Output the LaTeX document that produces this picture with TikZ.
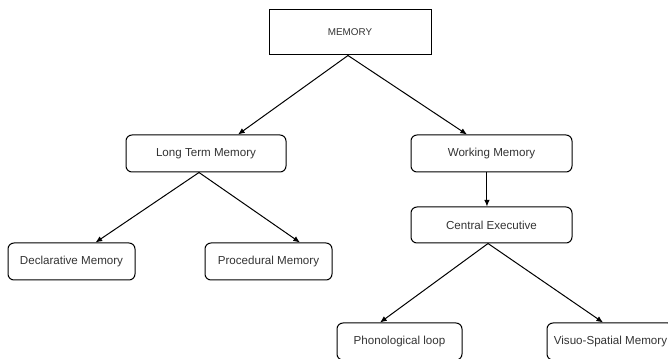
\documentclass[tikz,border=0pt]{standalone}
\usepackage{fontspec}
\setmainfont{Liberation Sans}
\usetikzlibrary{arrows.meta}
\tikzset{
  box/.style={draw=black, line width=0.75pt, rounded corners=4.5pt, inner sep=0pt,
    text=black!80, font=\fontsize{8.7}{10}\selectfont, anchor=center},
  topbox/.style={box, rounded corners=0pt, font=\fontsize{7.4}{9}\selectfont},
  conn/.style={draw=black, line width=0.75pt, -{Latex[length=5pt,width=4.2pt]}}
}
\begin{document}
\begin{tikzpicture}[x=0.75pt,y=-0.75pt]
\useasboundingbox (0,0) rectangle (668,359);
\clip (0,0) rectangle (668,359);
\node[topbox, minimum width=121.5pt, minimum height=33.75pt] (mem) at (350,32.5) {MEMORY};
\node[box, minimum width=120pt, minimum height=27.75pt] (ltm) at (206,153.5) {Long Term Memory};
\node[box, minimum width=120.75pt, minimum height=27.75pt] (wm) at (491.5,153.5) {Working Memory};
\node[box, minimum width=120.75pt, minimum height=27pt] (ce) at (491.5,225) {Central Executive};
\node[box, minimum width=95.25pt, minimum height=27.75pt] (dec) at (71.5,261.5) {Declarative Memory};
\node[box, minimum width=95.25pt, minimum height=27.75pt] (pro) at (268.5,261.5) {Procedural Memory};
\node[box, minimum width=93.75pt, minimum height=27.75pt] (pho) at (399.5,341.5) {Phonological loop};
\node[box, minimum width=95.25pt, minimum height=27.75pt] (vis) at (610.5,341.5) {Visuo-Spatial Memory};
\draw[conn] ([xshift=-1.5pt]mem.south) -- ([xshift=24pt]ltm.north);
\draw[conn] ([xshift=-1.5pt]mem.south) -- ([xshift=-18.4pt]wm.north);
\draw[conn] ([xshift=-5.25pt]ltm.south) -- ([xshift=18pt]dec.north);
\draw[conn] ([xshift=-5.25pt]ltm.south) -- ([xshift=23.6pt]pro.north);
\draw[conn] ([xshift=-3.4pt]wm.south) -- ([xshift=-3.4pt]ce.north);
\draw[conn] ([xshift=-2.6pt]ce.south) -- ([xshift=-14.6pt]pho.north);
\draw[conn] ([xshift=-2.6pt]ce.south) -- ([xshift=-5.6pt]vis.north);
\end{tikzpicture}
\end{document}
